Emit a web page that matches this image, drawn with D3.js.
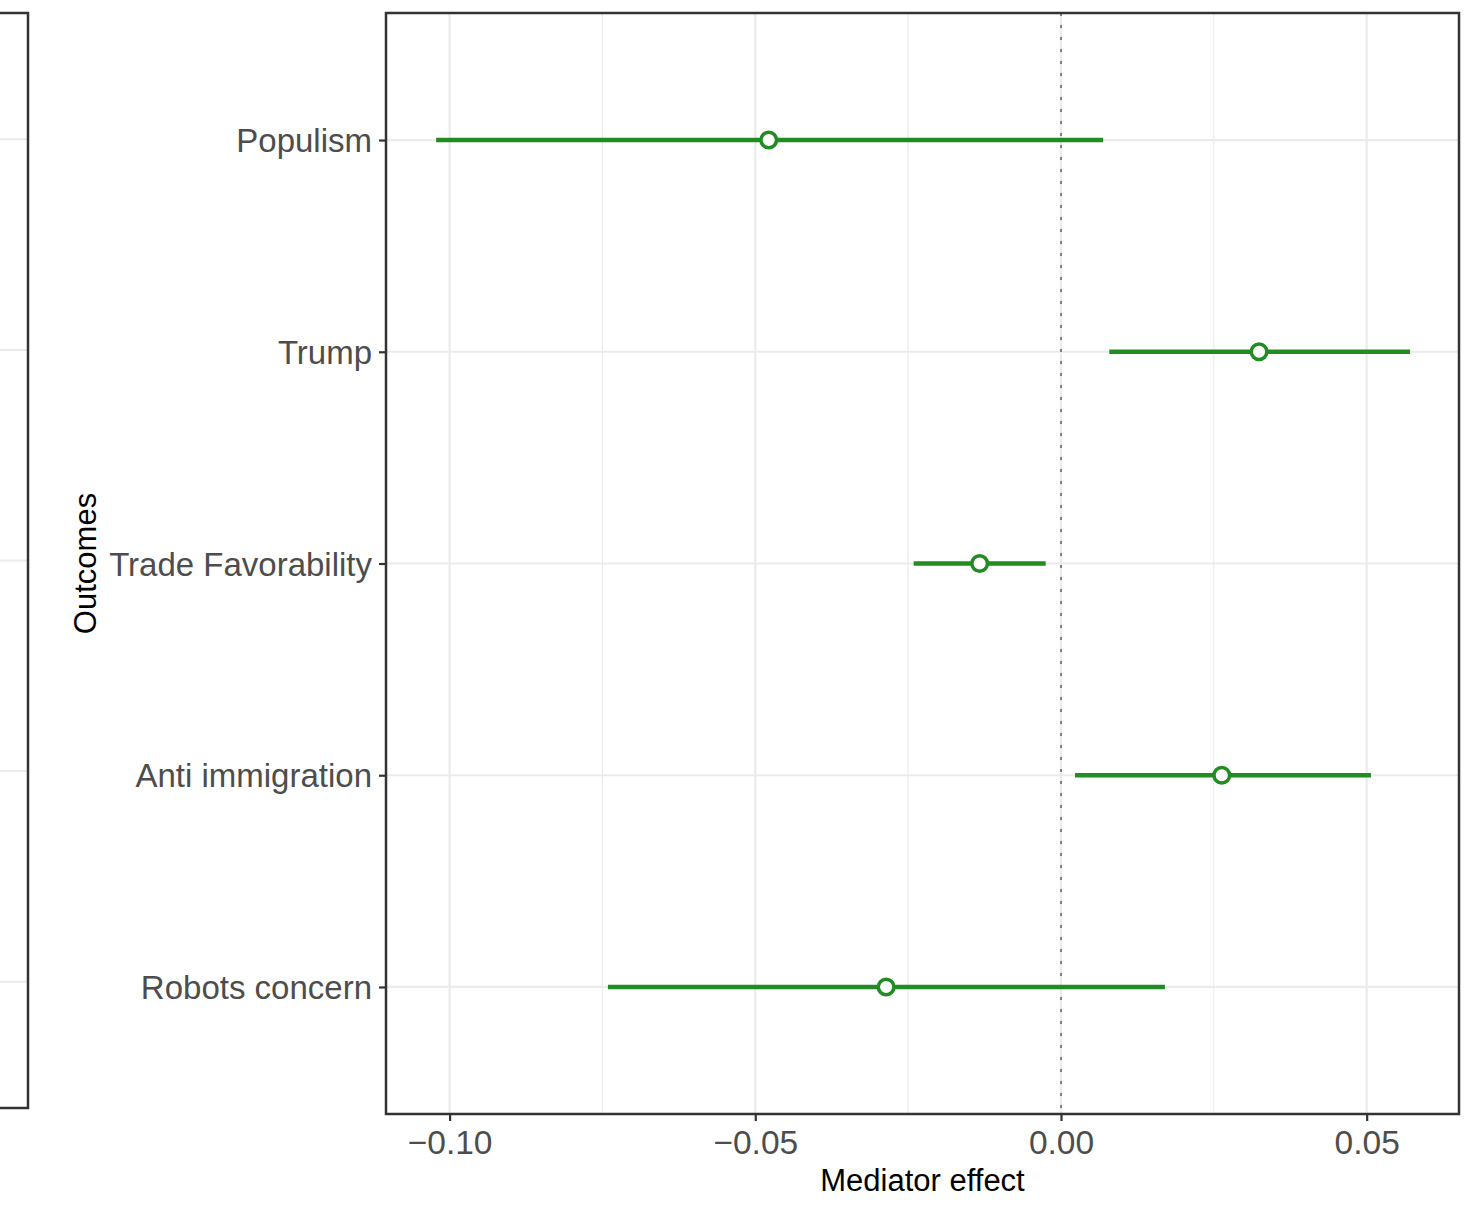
<!DOCTYPE html>
<html><head><meta charset="utf-8">
<script src="https://cdn.jsdelivr.net/npm/d3@7"></script>
<style>body{margin:0;background:#fff}svg{display:block}text{font-family:"Liberation Sans",Arial,sans-serif}</style>
</head><body><svg id="c" width="1466" height="1207"></svg>
<script>
const categories = ["Populism","Trump","Trade Favorability","Anti immigration","Robots concern"];
const estimates = [-0.0478, 0.0324, -0.0133, 0.0263, -0.0286];
const lower = [-0.1022, 0.0079, -0.0241, 0.0023, -0.0741];
const upper = [0.0069, 0.0571, -0.0025, 0.0507, 0.0170];
const xTicks = [-0.10, -0.05, 0.00, 0.05];
const xMinor = [-0.075, -0.025, 0.025];
const xTickLabels = ["\u22120.10","\u22120.05","0.00","0.05"];

const svg = d3.select("#c");
const P = {l:386, r:1459, t:13, b:1114};
const x = d3.scaleLinear().domain([-0.1104, 0.0651]).range([P.l, P.r]);
const y = d3.scaleLinear().domain([0.4, 5.6]).range([P.t, P.b]);
const yc = i => y(i+1);

// left partial panel
const L = {l:-10, r:28, t:13, b:1108};
const yL = d3.scaleLinear().domain([0.4, 5.6]).range([L.t, L.b]);
svg.append("g").selectAll("line").data(categories).join("line")
  .attr("x1", L.l).attr("x2", L.r).attr("y1",(d,i)=>yL(i+1)).attr("y2",(d,i)=>yL(i+1))
  .attr("stroke","#EBEBEB").attr("stroke-width",2);
svg.append("rect").attr("x",L.l).attr("y",L.t).attr("width",L.r-L.l).attr("height",L.b-L.t)
  .attr("fill","none").attr("stroke","#333333").attr("stroke-width",2.5);

// gridlines
const g = svg.append("g");
g.selectAll(".mn").data(xMinor).join("line").attr("x1",d=>x(d)).attr("x2",d=>x(d))
  .attr("y1",P.t).attr("y2",P.b).attr("stroke","#EBEBEB").attr("stroke-width",1.1);
g.selectAll(".mj").data(xTicks).join("line").attr("x1",d=>x(d)).attr("x2",d=>x(d))
  .attr("y1",P.t).attr("y2",P.b).attr("stroke","#EBEBEB").attr("stroke-width",2.2);
g.selectAll(".hy").data(categories).join("line").attr("x1",P.l).attr("x2",P.r)
  .attr("y1",(d,i)=>yc(i)).attr("y2",(d,i)=>yc(i)).attr("stroke","#EBEBEB").attr("stroke-width",2.2);

// zero line
svg.append("line").attr("x1",x(0)).attr("x2",x(0)).attr("y1",P.t).attr("y2",P.b)
  .attr("stroke","#7f7f7f").attr("stroke-width",2).attr("stroke-dasharray","3,9");

// error bars
svg.append("g").selectAll("line").data(categories).join("line")
  .attr("x1",(d,i)=>x(lower[i])).attr("x2",(d,i)=>x(upper[i]))
  .attr("y1",(d,i)=>yc(i)).attr("y2",(d,i)=>yc(i))
  .attr("stroke","#228B22").attr("stroke-width",4.4);
svg.append("g").selectAll("circle").data(categories).join("circle")
  .attr("cx",(d,i)=>x(estimates[i])).attr("cy",(d,i)=>yc(i)).attr("r",7.8)
  .attr("fill","#fff").attr("stroke","#228B22").attr("stroke-width",3.5);

// panel border
svg.append("rect").attr("x",P.l).attr("y",P.t).attr("width",P.r-P.l).attr("height",P.b-P.t)
  .attr("fill","none").attr("stroke","#333333").attr("stroke-width",2.5);

// x axis
const xa = svg.append("g").attr("transform",`translate(0,${P.b})`)
  .call(d3.axisBottom(x).tickValues(xTicks).tickSize(7).tickPadding(9).tickFormat((d,i)=>xTickLabels[i]));
xa.select(".domain").remove();
xa.selectAll("line").attr("stroke","#333333").attr("stroke-width",2.2);
xa.selectAll("text").attr("fill","#4D4D4D").attr("font-size",33.5).attr("dy","0.71em");

// y axis
const ya = svg.append("g").attr("transform",`translate(${P.l},0)`)
  .call(d3.axisLeft(d3.scalePoint().domain(categories).range([yc(0),yc(4)])).tickSize(7).tickPadding(7));
ya.select(".domain").remove();
ya.selectAll("line").attr("stroke","#333333").attr("stroke-width",2.2);
ya.selectAll("text").attr("fill","#4D4D4D").attr("font-size",33).attr("dy","0.35em");

// titles
svg.append("text").attr("x",(P.l+P.r)/2).attr("y",1191).attr("text-anchor","middle")
  .attr("font-size",31).attr("fill","#000").text("Mediator effect");
svg.append("text").attr("transform",`translate(96,${(P.t+P.b)/2}) rotate(-90)`).attr("text-anchor","middle")
  .attr("font-size",31).attr("fill","#000").text("Outcomes");
</script></body></html>
